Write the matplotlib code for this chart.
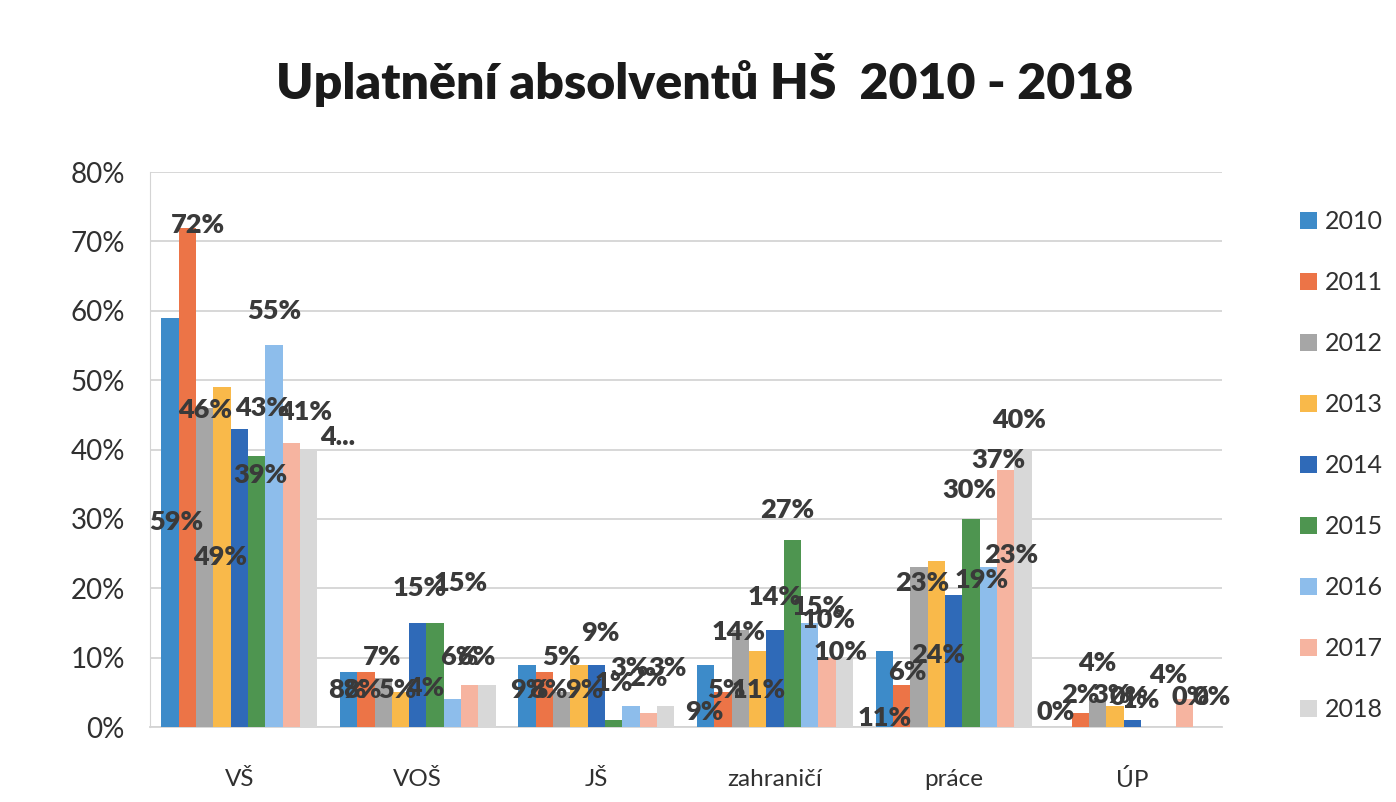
import matplotlib
matplotlib.use("Agg")
import matplotlib.pyplot as plt
from matplotlib.patches import Patch
from matplotlib.ticker import FuncFormatter
import numpy as np

plt.rcParams['font.family'] = ['Lato', 'DejaVu Sans']

categories = ["VŠ", "VOŠ", "JŠ", "zahraničí", "práce", "ÚP"]
years = ["2010", "2011", "2012", "2013", "2014", "2015", "2016", "2017", "2018"]

# share of graduates (%) per year, in category order
v2010 = [59, 8, 9, 9, 11, 0]
v2011 = [72, 8, 8, 5, 6, 2]
v2012 = [46, 7, 5, 14, 23, 4]
v2013 = [49, 5, 9, 11, 24, 3]
v2014 = [43, 15, 9, 14, 19, 1]
v2015 = [39, 15, 1, 27, 30, 0]
v2016 = [55, 4, 3, 15, 23, 0]
v2017 = [41, 6, 2, 10, 37, 4]
v2018 = [40, 6, 3, 10, 40, 0]
series = [v2010, v2011, v2012, v2013, v2014, v2015, v2016, v2017, v2018]

# the 2018 VŠ label is cut off in the original
label_text = {(8, 0): "4..."}

colors = ["#3D8BC9", "#EC7447", "#A6A6A6", "#F9B94A", "#2F6AB8",
          "#4E9550", "#8DBDEB", "#F6B4A0", "#D8D8D8"]

# label offsets: (dx in bar widths, dy in %) per series, per category
label_off = [
    [(0.35, -29.5), (-0.05, -2.7), (0.1, -3.7), (-0.1, -6.8), (0.0, -9.7), (-0.4, 2.2)],
    [(0.6, 0.3), (-0.2, -2.7), (0.2, -2.7), (0.2, 0.3), (0.3, 2.0), (0.0, 2.6)],
    [(0.05, -0.3), (-0.05, 3.1), (0.0, 5.1), (-0.1, -0.3), (0.2, -2.3), (0.0, 5.2)],
    [(-0.1, -24.5), (-0.2, 0.3), (0.3, -3.7), (0.05, -5.7), (0.1, -13.6), (-0.2, 1.6)],
    [(1.3, 3.0), (0.1, 5.0), (0.2, 4.5), (0.0, 4.7), (1.6, 2.2), (0.5, 2.9)],
    [(0.2, -2.7), (1.45, 5.7), (0.0, 5.3), (-0.3, 4.3), (-0.1, 4.1), (-1.2, 4.3)],
    [(0.0, 5.0), (-1.55, 1.6), (-0.1, 5.5), (0.5, 2.3), (1.3, 1.8), (1.4, 4.3)],
    [(0.8, 4.4), (-0.6, 4.1), (0.0, 5.1), (0.1, 5.4), (-0.4, 1.5), (-0.9, 3.5)],
    [(1.7, 1.8), (-0.6, 4.1), (0.1, 5.5), (-0.2, 0.8), (-0.2, 4.2), (0.6, 4.3)],
]

fig = plt.figure(figsize=(13.96, 8.02), dpi=100)
ax = fig.add_axes([0.1074, 0.0935, 0.7676, 0.692])

x = np.arange(len(categories))
bw = 0.097
for j, vals in enumerate(series):
    pos = x + (j - 4) * bw
    ax.bar(pos, vals, width=bw, color=colors[j], zorder=3)
    for i, v in enumerate(vals):
        dx, dy = label_off[j][i]
        txt = label_text.get((j, i), f"{v}%")
        ax.text(pos[i] + dx * bw, v + dy, txt, ha="center", va="center",
                fontsize=19.5, fontweight="heavy", color="#3A3A3A", zorder=5)

ax.set_xlim(-0.5, len(categories) - 0.5)
ax.set_ylim(0, 80)
ax.set_yticks(np.arange(0, 81, 10))
ax.yaxis.set_major_formatter(FuncFormatter(lambda v, p: f"{v:.0f}%"))
ax.set_xticks(x)
ax.set_xticklabels(categories)
ax.tick_params(axis="y", labelsize=20, length=0, pad=18, colors="#303030")
ax.tick_params(axis="x", labelsize=17.5, length=0, pad=30, colors="#303030")
ax.grid(axis="y", color="#D4D4D4", linewidth=1.3, zorder=0)
for s in ["top", "right"]:
    ax.spines[s].set_visible(False)
ax.spines["left"].set_color("#D4D4D4")
ax.spines["bottom"].set_color("#D4D4D4")
ax.spines["bottom"].set_linewidth(1.3)

handles = [Patch(facecolor=c, edgecolor="none") for c in colors]
fig.legend(handles, years, loc="upper left", bbox_to_anchor=(0.915, 0.766),
           frameon=False, fontsize=18, handlelength=0.7, handleheight=0.7,
           handletextpad=0.3, labelspacing=1.52, labelcolor="#303030")

fig.text(0.505, 0.9, "Uplatnění absolventů HŠ  2010 - 2018", ha="center",
         va="center", fontsize=36, fontweight="heavy", color="#1A1A1A")

fig.savefig("out.png", dpi=100)
